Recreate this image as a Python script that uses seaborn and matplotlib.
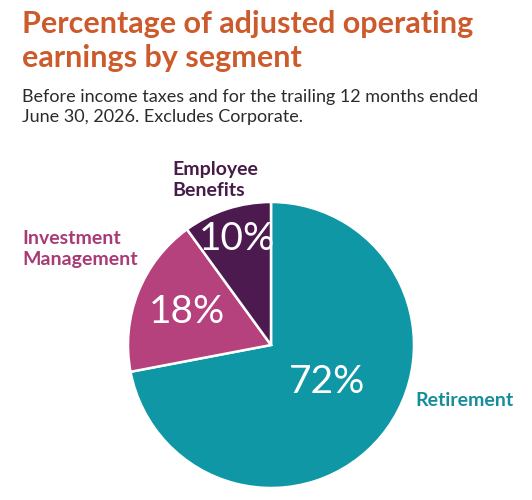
import numpy as np
import matplotlib
matplotlib.use("Agg")
import matplotlib.pyplot as plt
import seaborn as sns

segments = ["Retirement", "Investment\nManagement", "Employee\nBenefits"]
shares = [72, 18, 10]
pct_labels = ["72%", "18%", "10%"]
colors = ["#0f97a5", "#b5417d", "#4d1a50"]
label_colors = ["#168d9c", "#a83b76", "#461b48"]

sns.set_theme(style="white")
plt.rcParams["font.family"] = ["Lato", "DejaVu Sans"]

W, H = 532, 500
fig = plt.figure(figsize=(W / 100, H / 100), dpi=100)
fig.patch.set_facecolor("white")

# pie centre (271, 345) px, radius 143 px
cx, cy, r = 271, 345, 143
ax = fig.add_axes([(cx - r) / W, (H - cy - r) / H, 2 * r / W, 2 * r / H])
wedges, _ = ax.pie(shares, colors=colors, startangle=90, counterclock=False,
                   wedgeprops=dict(edgecolor="white", linewidth=1.8))
ax.set_xlim(-1, 1)
ax.set_ylim(-1, 1)
ax.axis("off")

# percent labels inside wedges (distance from centre, angle nudge in degrees)
dists = [0.47, 0.63, 0.78]
nudges = [6, 0, 0]
for w, lab, d, n in zip(wedges, pct_labels, dists, nudges):
    ang = np.deg2rad((w.theta1 + w.theta2) / 2 + n)
    ax.text(d * np.cos(ang), d * np.sin(ang), lab, color="white",
            fontsize=28, fontweight="normal", ha="center", va="center")

# segment labels
fig.text(415 / W, 1 - 401 / H, segments[0], color=label_colors[0],
         fontsize=14, fontweight="bold", ha="left", va="center")
fig.text(22 / W, 1 - 249 / H, segments[1], color=label_colors[1],
         fontsize=14, fontweight="bold", ha="left", va="center", linespacing=1.25)
fig.text(172 / W, 1 - 180 / H, segments[2], color=label_colors[2],
         fontsize=14, fontweight="bold", ha="left", va="center", linespacing=1.25)

fig.text(22 / W, 1 - 10 / H, "Percentage of adjusted operating\nearnings by segment",
         color="#cc5a2b", fontsize=22, fontweight="bold", ha="left", va="top",
         linespacing=1.28)
fig.text(22 / W, 1 - 89 / H,
         "Before income taxes and for the trailing 12 months ended\nJune 30, 2026. Excludes Corporate.",
         color="#2b2b2b", fontsize=13, ha="left", va="top", linespacing=1.3)

fig.savefig("out.png", dpi=100, facecolor="white")
